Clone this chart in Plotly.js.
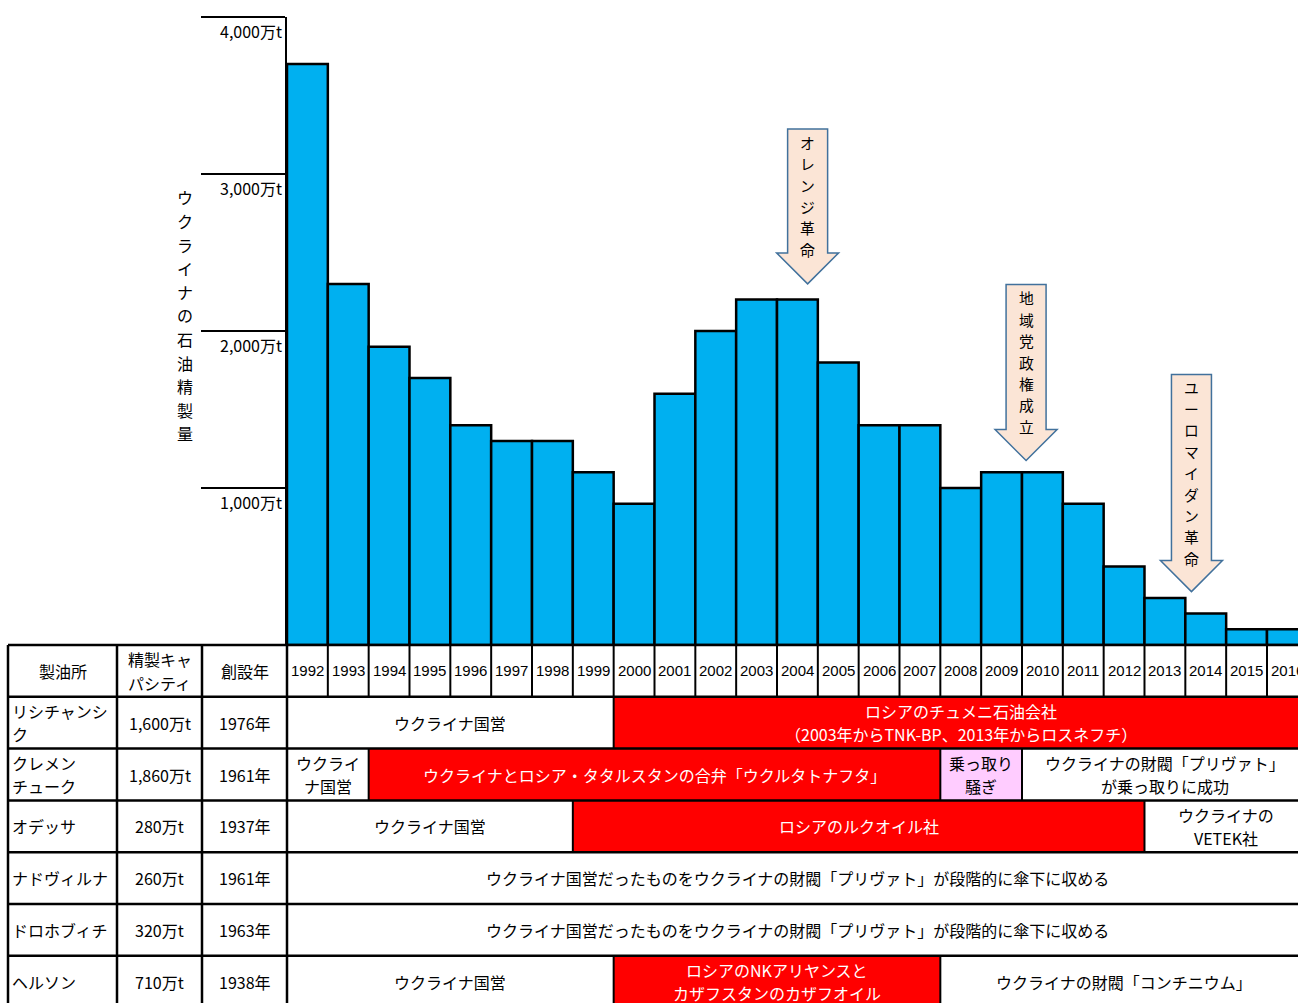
<!DOCTYPE html>
<html><head><meta charset="utf-8">
<script src="https://cdn.plot.ly/plotly-3.0.1.min.js"></script>
<style>html,body{margin:0;padding:0;background:#fff;overflow:hidden}#chart{width:1298px;height:1003px}</style>
</head><body><div id="chart"></div>
<script>
// ---------- DATA ----------
const years = [1992,1993,1994,1995,1996,1997,1998,1999,2000,2001,2002,2003,2004,2005,2006,2007,2008,2009,2010,2011,2012,2013,2014,2015,2016];
const production = [3700,2300,1900,1700,1400,1300,1300,1100,900,1600,2000,2200,2200,1800,1400,1400,1000,1100,1100,900,500,300,200,100,100];
const yTickValues = [1000,2000,3000,4000];
const yTickLabels = ['1,000万t','2,000万t','3,000万t','4,000万t'];
const yTitle = 'ウクライナの石油精製量';
const tableHeaders = ['製油所','精製キャ<br>パシティ','創設年'];
const refineryNames = ['リシチャンシ<br>ク','クレメン<br>チューク','オデッサ','ナドヴィルナ','ドロホブィチ','ヘルソン'];
const capacities = ['1,600万t','1,860万t','280万t','260万t','320万t','710万t'];
const foundedYears = ['1976年','1961年','1937年','1961年','1963年','1938年'];
const ownerFrom = [[1992,2000],[1992,1994,2008,2010],[1992,1999,2013],[1992],[1992],[1992,2000,2008]];
const ownerTo   = [[1999,2016],[1993,2007,2009,2016],[1998,2012,2016],[2016],[2016],[1999,2007,2016]];
const ownerText = [
  ['ウクライナ国営','ロシアのチュメニ石油会社<br>（2003年からTNK-BP、2013年からロスネフチ）'],
  ['ウクライ<br>ナ国営','ウクライナとロシア・タタルスタンの合弁「ウクルタトナフタ」','乗っ取り<br>騒ぎ','ウクライナの財閥「プリヴァト」<br>が乗っ取りに成功'],
  ['ウクライナ国営','ロシアのルクオイル社','ウクライナの<br>VETEK社'],
  ['ウクライナ国営だったものをウクライナの財閥「プリヴァト」が段階的に傘下に収める'],
  ['ウクライナ国営だったものをウクライナの財閥「プリヴァト」が段階的に傘下に収める'],
  ['ウクライナ国営','ロシアのNKアリヤンスと<br>カザフスタンのカザフオイル','ウクライナの財閥「コンチニウム」']
];
const ownerType = [['ua','ru'],['ua','ru','dispute','ua'],['ua','ru','ua'],['ua'],['ua'],['ua','ru','ua']];
const events = ['オレンジ革命','地域党政権成立','ユーロマイダン革命'];
const eventYear = [2004.25, 2009.6, 2013.65];
const eventLevel = [2300, 1175, 340];

// ---------- LAYOUT ----------
const W = 1298, H = 1003, L = 287, T = 17, B = 645;
const plotW = W - L, plotH = B - T;
const barPx = 40.833;
const xRange = [1991.5, 1991.5 + plotW / barPx];
const fx = px => (px - L) / plotW;
const fy = py => (B - py) / plotH;
const JP = '"Noto Sans CJK JP", "Noto Sans", sans-serif';
const LAT = '"Liberation Sans", Arial, sans-serif';
const rowH = 51.8;
const colEdges = [8, 117, 202, 287];
const fillOf = {ua: '#FFFFFF', ru: '#FF0000', dispute: '#FFCCFF'};
const textOf = {ua: '#000000', ru: '#FFFFFF', dispute: '#000000'};
const arrowLen = [155, 176, 217];

const shapes = [];
const annotations = [];

// multi-line text as one annotation per line, with controlled spacing
function addText(base, text, gap) {
  const lines = text.split('<br>');
  const n = lines.length;
  lines.forEach((ln, k) => {
    const a = Object.assign({showarrow: false}, base);
    a.text = ln;
    a.yshift = (base.yshift || 0) + ((n - 1) / 2 - k) * gap;
    annotations.push(a);
  });
}

// y tick labels
yTickValues.forEach((v, i) => {
  addText({xref: 'paper', yref: 'y', x: fx(284), y: v, xanchor: 'right', yanchor: 'middle',
    yshift: -14, font: {family: JP, size: 16, color: '#000'}}, yTickLabels[i], 0);
});
// y title (vertical, one char per line)
addText({xref: 'paper', yref: 'y', x: fx(185), y: 2100, xanchor: 'center', yanchor: 'middle',
  font: {family: JP, size: 16, color: '#000'}}, yTitle.split('').join('<br>'), 23.6);

// table: segment fills and texts
ownerFrom.forEach((starts, i) => {
  const top = B + rowH * (i + 1), bot = top + rowH, mid = fy((top + bot) / 2);
  starts.forEach((s, j) => {
    const e = ownerTo[i][j], kind = ownerType[i][j];
    shapes.push({type: 'rect', xref: 'x', yref: 'paper', x0: s - 0.5, x1: e + 0.5, y0: fy(bot), y1: fy(top),
      fillcolor: fillOf[kind], line: {width: 0}, layer: 'above'});
    if (j > 0) shapes.push({type: 'line', xref: 'x', yref: 'paper', x0: s - 0.5, x1: s - 0.5, y0: fy(bot), y1: fy(top),
      line: {color: '#000', width: 2}});
    addText({xref: 'x', yref: 'paper', x: (s + e) / 2, y: mid, xanchor: 'center', yanchor: 'middle',
      font: {family: JP, size: 16, color: textOf[kind]}}, ownerText[i][j], 23.5);
  });
  addText({xref: 'paper', yref: 'paper', x: fx(10), y: mid, xanchor: 'left', yanchor: 'middle',
    font: {family: JP, size: 16, color: '#000'}}, refineryNames[i], 23.5);
  addText({xref: 'paper', yref: 'paper', x: fx((colEdges[1] + colEdges[2]) / 2), y: mid, xanchor: 'center', yanchor: 'middle',
    font: {family: JP, size: 16, color: '#000'}}, capacities[i], 0);
  addText({xref: 'paper', yref: 'paper', x: fx((colEdges[2] + colEdges[3]) / 2), y: mid, xanchor: 'center', yanchor: 'middle',
    font: {family: JP, size: 16, color: '#000'}}, foundedYears[i], 0);
});
// header texts
tableHeaders.forEach((h, k) => {
  addText({xref: 'paper', yref: 'paper', x: fx((colEdges[k] + colEdges[k + 1]) / 2), y: fy(B + rowH / 2), xanchor: 'center', yanchor: 'middle',
    font: {family: JP, size: 16, color: '#000'}}, h, 23.5);
});
// header year labels + dividers
years.forEach(y => {
  addText({xref: 'x', yref: 'paper', x: y, y: fy(B + rowH / 2), xanchor: 'center', yanchor: 'middle',
    font: {family: LAT, size: 15, color: '#000'}}, String(y), 0);
  shapes.push({type: 'line', xref: 'x', yref: 'paper', x0: y + 0.5, x1: y + 0.5, y0: fy(B + rowH), y1: fy(B),
    line: {color: '#000', width: 2}});
});
// horizontal row lines
for (let r = 0; r <= 7; r++) {
  const py = B + r * rowH;
  shapes.push({type: 'line', xref: 'paper', yref: 'paper', x0: fx(colEdges[0]), x1: 1.05, y0: fy(py), y1: fy(py),
    line: {color: '#000', width: 2.5}});
}
// vertical column lines
colEdges.forEach(px => {
  shapes.push({type: 'line', xref: 'paper', yref: 'paper', x0: fx(px), x1: fx(px), y0: fy(B), y1: fy(H + 10),
    line: {color: '#000', width: 2.5}});
});
// event arrows
events.forEach((ev, k) => {
  const len = arrowLen[k];
  const path = `M0,0 L31,31 L20,31 L20,${len} L-20,${len} L-20,31 L-31,31 Z`;
  shapes.push({type: 'path', xref: 'x', yref: 'y', xsizemode: 'pixel', ysizemode: 'pixel',
    xanchor: eventYear[k], yanchor: eventLevel[k], path: path,
    fillcolor: '#FBE5D6', line: {color: '#41719C', width: 1.5}, layer: 'above'});
  addText({xref: 'x', yref: 'y', x: eventYear[k], y: eventLevel[k], xanchor: 'center', yanchor: 'middle',
    yshift: (len + 31) / 2 - 5, font: {family: JP, size: 14.8, color: '#000'}}, ev.split('').join('<br>'), 21.4);
});

const trace = {
  type: 'bar', x: years, y: production, width: 1,
  marker: {color: '#00B0F0', line: {color: '#000', width: 2.5}},
  hoverinfo: 'x+y'
};

const layout = {
  width: W, height: H,
  margin: {l: L, r: 0, t: T, b: H - B, pad: 0},
  paper_bgcolor: '#fff', plot_bgcolor: '#fff',
  showlegend: false, bargap: 0,
  xaxis: {range: xRange, showgrid: false, zeroline: false, showticklabels: false, ticks: '', showline: false, fixedrange: true},
  yaxis: {range: [0, 4000], showgrid: false, zeroline: false, showticklabels: false,
    ticks: 'outside', tickvals: yTickValues, ticklen: 84, tickwidth: 2.5, tickcolor: '#000',
    showline: true, linecolor: '#000', linewidth: 2.5, fixedrange: true},
  shapes: shapes,
  annotations: annotations
};

Plotly.newPlot('chart', [trace], layout, {displayModeBar: false, staticPlot: true});
</script>
</body></html>
